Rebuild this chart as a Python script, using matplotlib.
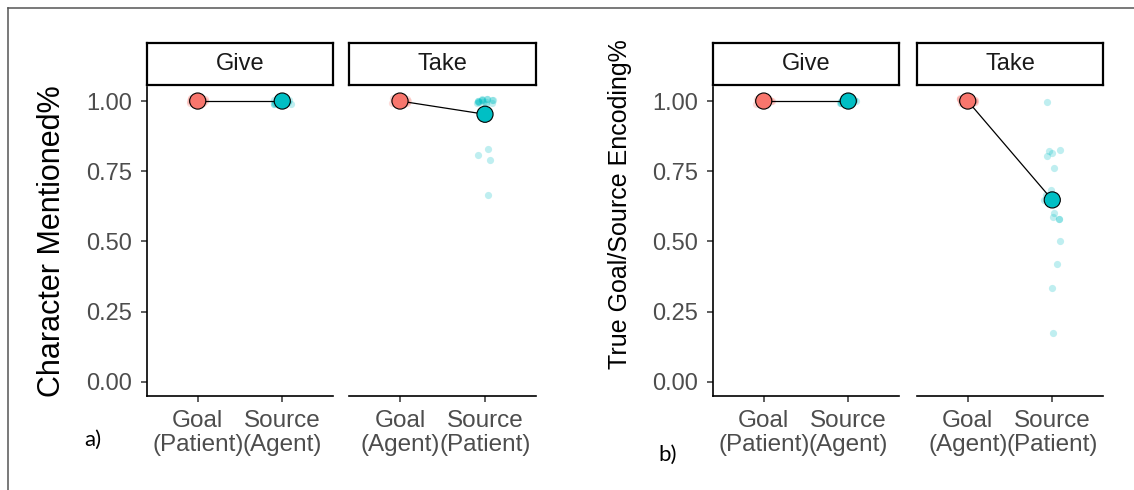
import numpy as np
import matplotlib.pyplot as plt
from matplotlib.lines import Line2D

# categories / labels
conditions = ['Give', 'Take']
give_tick_labels = ['Goal\n(Patient)', 'Source\n(Agent)']
take_tick_labels = ['Goal\n(Agent)', 'Source\n(Patient)']
y_ticks = [0.00, 0.25, 0.50, 0.75, 1.00]

# a) Character Mentioned% - per participant values
a_give_goal = [1.0] * 20
a_give_source = [1.0] * 20
a_take_goal = [1.0] * 20
a_take_source = [1.0] * 16 + [0.834, 0.804, 0.794, 0.661]
a_give_means = [1.0, 1.0]
a_take_means = [1.0, 0.953]

# b) True Goal/Source Encoding% - per participant values
b_give_goal = [1.0] * 20
b_give_source = [1.0] * 20
b_take_goal = [1.0] * 20
b_take_source = [1.0, 0.828, 0.824, 0.815, 0.810, 0.770, 0.685, 0.66, 0.65, 0.64,
                 0.600, 0.594, 0.591, 0.578, 0.500, 0.411, 0.337, 0.170]
b_give_means = [1.0, 1.0]
b_take_means = [1.0, 0.648]

RED = '#F8766D'
CYAN = '#00BFC4'
W, H = 1134, 490

rng = np.random.default_rng(11)


def panel(left_px, right_px, goal, source, means, labels, strip, first):
    top_px, bottom_px = 87, 396
    ax = fig.add_axes([left_px / W, 1 - bottom_px / H,
                       (right_px - left_px) / W, (bottom_px - top_px) / H])
    for i, (vals, col) in enumerate([(goal, RED), (source, CYAN)]):
        vals = np.asarray(vals)
        dx = rng.uniform(-0.1, 0.1, len(vals))
        dy = rng.uniform(-0.01, 0.01, len(vals))
        ax.scatter(i + 1 + dx, vals + dy, s=27, color=col, alpha=0.25,
                   linewidths=0, zorder=2)
    ax.plot([1, 2], means, color='black', lw=0.9, zorder=3)
    ax.scatter([1, 2], means, s=135, c=[RED, CYAN], edgecolors='black',
               linewidths=0.8, zorder=4)
    ax.set_xlim(0.4, 2.6)
    ax.set_ylim(-0.05, 1.05)
    ax.set_xticks([1, 2])
    ax.set_xticklabels(labels, fontsize=17.5, color='#4D4D4D', linespacing=1.15)
    ax.spines['top'].set_visible(False)
    ax.spines['right'].set_visible(False)
    ax.spines['bottom'].set_linewidth(1.2)
    ax.spines['left'].set_linewidth(1.2)
    ax.tick_params(axis='x', length=4, width=1.1, color='#333333', pad=6)
    ax.tick_params(axis='y', length=4, width=1.1, color='#333333', pad=7)
    if first:
        ax.set_yticks(y_ticks)
        ax.set_yticklabels(['%.2f' % v for v in y_ticks], fontsize=17, color='#4D4D4D')
    else:
        ax.spines['left'].set_visible(False)
        ax.set_yticks([])
    # facet strip
    sax = fig.add_axes([left_px / W, 1 - 85 / H, (right_px - left_px) / W, 42 / H])
    sax.set_xticks([])
    sax.set_yticks([])
    for sp in sax.spines.values():
        sp.set_linewidth(1.6)
        sp.set_color('black')
    sax.text(0.5, 0.5, strip, ha='center', va='center', fontsize=17, color='#1A1A1A',
             transform=sax.transAxes)
    return ax


plt.rcParams['font.family'] = ['Liberation Sans', 'DejaVu Sans']
fig = plt.figure(figsize=(W / 100, H / 100), dpi=100)

panel(147, 333, a_give_goal, a_give_source, a_give_means, give_tick_labels, conditions[0], True)
panel(349, 536, a_take_goal, a_take_source, a_take_means, take_tick_labels, conditions[1], False)
panel(713, 899, b_give_goal, b_give_source, b_give_means, give_tick_labels, conditions[0], True)
panel(917, 1103, b_take_goal, b_take_source, b_take_means, take_tick_labels, conditions[1], False)

fig.text(52 / W, 1 - 241 / H, 'Character Mentioned%', rotation=90, ha='center', va='center',
         fontsize=22, color='black')
fig.text(620 / W, 1 - 204 / H, 'True Goal/Source Encoding%', rotation=90, ha='center',
         va='center', fontsize=18, color='black')
fig.text(93 / W, 1 - 440 / H, 'a)', ha='center', va='center', fontsize=16, family='Lato')
fig.text(668 / W, 1 - 455 / H, 'b)', ha='center', va='center', fontsize=16, family='Lato')

# outer frame (top and left edges)
fig.add_artist(Line2D([8 / W, 1.0], [1 - 8.5 / H, 1 - 8.5 / H], color='#555555', lw=1.1))
fig.add_artist(Line2D([8 / W, 8 / W], [0.0, 1 - 8.5 / H], color='#555555', lw=1.1))

fig.savefig('out.png', dpi=100)
